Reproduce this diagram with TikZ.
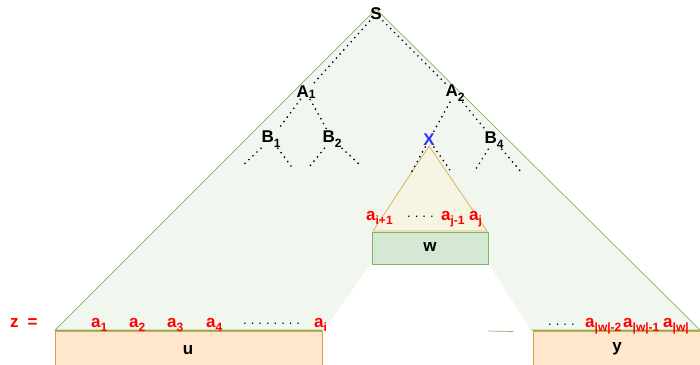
\documentclass[tikz,border=0pt]{standalone}
\usepackage{fontspec}
\setmainfont{Liberation Sans}
\definecolor{trigreen}{RGB}{130,179,102}
\definecolor{trifill}{RGB}{241,247,239}
\definecolor{xfill}{RGB}{246,245,228}
\definecolor{xline}{RGB}{214,182,86}
\definecolor{wfill}{RGB}{213,232,212}
\definecolor{ufill}{RGB}{255,230,204}
\definecolor{uline}{RGB}{215,160,60}
\definecolor{xblue}{RGB}{51,51,255}
\newcommand{\lsub}[1]{\raisebox{-0.5ex}{\fontsize{12}{12}\selectfont #1}}
\newcommand{\msub}[1]{\raisebox{-0.1ex}{\fontsize{12}{12}\selectfont #1}}
\tikzset{
  sym/.style={font=\fontsize{17}{17}\selectfont\bfseries, inner sep=1pt},
  lab/.style={font=\fontsize{17}{17}\selectfont\bfseries, text=red, inner sep=0pt, anchor=base west},
  dotsl/.style={font=\fontsize{13}{13}\selectfont, inner sep=0pt, anchor=base west},
  dotline/.style={line width=1.9pt, line cap=round, dash pattern=on 0pt off 5.5pt},
  boxw/.style={draw=trigreen, fill=wfill, line width=0.8pt},
  boxu/.style={draw=uline, fill=ufill, line width=0.8pt},
}
\newcommand{\dts}[1]{\foreach \k in {1,...,#1}{.\hspace{4pt}}}
\begin{document}
\begin{tikzpicture}[x=1pt,y=-1pt]
\useasboundingbox (0,0) rectangle (700,364);
% big triangle
\draw[draw=trigreen, fill=trifill, line width=0.7pt] (376,9) -- (55,330) -- (700,330) -- cycle;
% white gap below w
\fill[white] (372,263) -- (488,263) -- (532,332) -- (322,332) -- cycle;
\draw[trigreen, line width=0.7pt] (488,331) -- (513,331.5);
% boxes u and y
\draw[boxu] (55,331) rectangle (322,370);
\draw[boxu] (533,331) rectangle (706,370);
\draw[trigreen, line width=0.6pt] (55,330.5) -- (322,330.5);
\draw[trigreen, line width=0.6pt] (533,330.5) -- (700,330.5);
\node (u) at (188,350) {\fontsize{17}{17}\selectfont\bfseries u};
\node (y) at (617,349) {\fontsize{17}{17}\selectfont\bfseries y};
% X triangle and w box
\draw[draw=xline, fill=xfill, line width=0.8pt] (429,146) -- (373,231) -- (487,231) -- cycle;
\draw[boxw] (372,232) rectangle (488,264);
\node (w) at (430,247) {\fontsize{17}{17}\selectfont\bfseries w};
% tree nodes
\node[sym] (S) at (376,14) {S};
\node[sym] (A1) at (306,92) {A\msub{1}};
\node[sym] (A2) at (455,93) {A\lsub{2}};
\node[sym] (B1) at (271,139) {B\lsub{1}};
\node[sym] (B2) at (332,139) {B\lsub{2}};
\node[sym, text=xblue] (X) at (429,140) {X};
\node[sym] (B4) at (494,140) {B\lsub{4}};
\coordinate (b1l) at (242,166);
\coordinate (b1r) at (291,166);
\coordinate (b2l) at (310,166);
\coordinate (b2r) at (359,164);
\coordinate (xl) at (411,173);
\coordinate (xr) at (452,173);
\coordinate (b4l) at (474,172);
\coordinate (b4r) at (522,173);
\draw[dotline] (S) -- (A1);
\draw[dotline] (S) -- (A2);
\draw[dotline] (A1) -- (B1);
\draw[dotline] (A1) -- (B2);
\draw[dotline] (A2) -- (X);
\draw[dotline] (A2) -- (B4);
\draw[dotline] (B1) -- (b1l);
\draw[dotline] (B1) -- (b1r);
\draw[dotline] (B2) -- (b2l);
\draw[dotline] (B2) -- (b2r);
\draw[dotline] (X) -- (xl);
\draw[dotline] (X) -- (xr);
\draw[dotline] (B4) -- (b4l);
\draw[dotline] (B4) -- (b4r);
% word labels
\node[lab] (z) at (10,327) {z\hspace{9pt}=};
\node[lab] (a1) at (91,327) {a\lsub{1}};
\node[lab] (a2) at (129,327) {a\lsub{2}};
\node[lab] (a3) at (167,327) {a\lsub{3}};
\node[lab] (a4) at (206,327) {a\lsub{4}};
\node[dotsl] (d1) at (243,324) {\dts{8}};
\node[lab] (ai) at (314,327) {a\lsub{i}};
\node[dotsl] (d2) at (548,325) {\dts{4}};
\node[lab] (aw2) at (585,327) {a\lsub{|w|-2}};
\node[lab] (aw1) at (623,327) {a\lsub{|w|-1}};
\node[lab] (aw) at (663,327) {a\lsub{|w|}};
\node[lab] (ai1) at (366,220) {a\lsub{i+1}};
\node[dotsl] (d3) at (407,217) {\dts{4}};
\node[lab] (aj1) at (441,220) {a\lsub{j-1}};
\node[lab] (aj) at (469,220) {a\lsub{j}};
\end{tikzpicture}
\end{document}
